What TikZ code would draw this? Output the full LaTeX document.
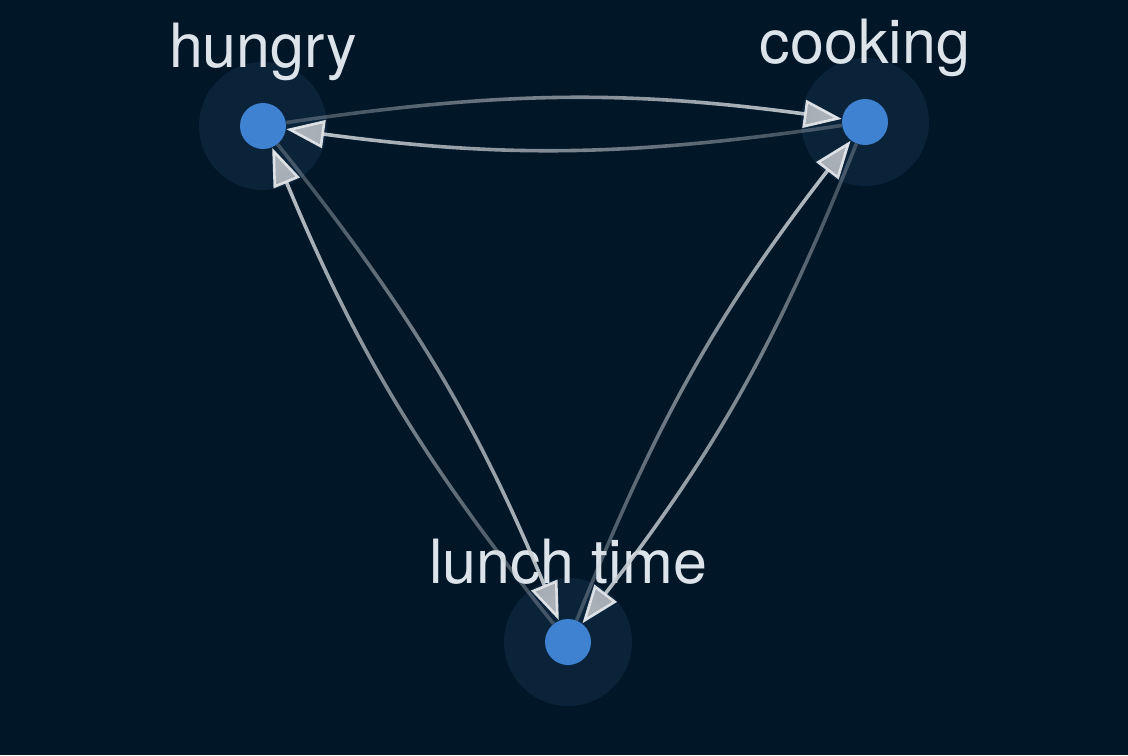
\documentclass[tikz,border=0pt]{standalone}
\usepackage{fontspec}
\setmainfont{TeX Gyre Heros}
\usepackage{tikz}
\usetikzlibrary{arrows.meta, calc, positioning, fadings}
\definecolor{night}{HTML}{011627}
\definecolor{halo}{HTML}{0B2339}
\definecolor{dot}{HTML}{3F82D2}
\definecolor{ink}{HTML}{DCE3EA}
\definecolor{edgecol}{HTML}{C6CCD2}
\definecolor{tipfill}{HTML}{B3B9BF}
\definecolor{tipline}{HTML}{E4E8EC}

\tikzfading[name=edgefade, left color=transparent!75, right color=transparent!0]

\begin{document}
\begin{tikzpicture}[
    x=0.5pt, y=-0.5pt,
    every node/.style={font=\fontsize{30.5}{36}\selectfont},
    state/.style={circle, fill=dot, minimum size=23pt, inner sep=0pt},
    tag/.style={text=ink, inner sep=0pt, text depth=0.2em},
    link/.style={line width=1.8pt, edgecol,
        -{Triangle[length=19pt, width=14pt, line width=1.3pt, color=tipline, fill=tipfill]},
        path fading=edgefade, fit fading=false},
  ]
  \fill[night] (0,0) rectangle (1128,755);

  % states with their halo
  \foreach \n/\px/\py in {hungry/263/126, cooking/865/122, lunch/568/642} {
    \fill[halo] (\px,\py) circle (32pt);
    \node[state] (\n) at (\px,\py) {};
  }

  \node[tag, above=15.5pt of hungry] (hungrytag) {hungry};
  \node[tag, above=15.5pt of cooking] (cookingtag) {cooking};
  \node[tag, above=15.5pt of lunch] (lunchtag) {lunch time};

  % transitions, faint at the source, bright at the target
  \foreach \a/\b/\ang in {hungry/cooking/0, cooking/hungry/180,
                          hungry/lunch/-59.4, lunch/hungry/120.6,
                          lunch/cooking/60.3, cooking/lunch/-119.7} {
    \draw[link, fading transform={shift={($(\a)!0.5!(\b)$)}, rotate=\ang, xscale=6}]
      (\a) to[bend left=8] (\b);
  }
\end{tikzpicture}
\end{document}
